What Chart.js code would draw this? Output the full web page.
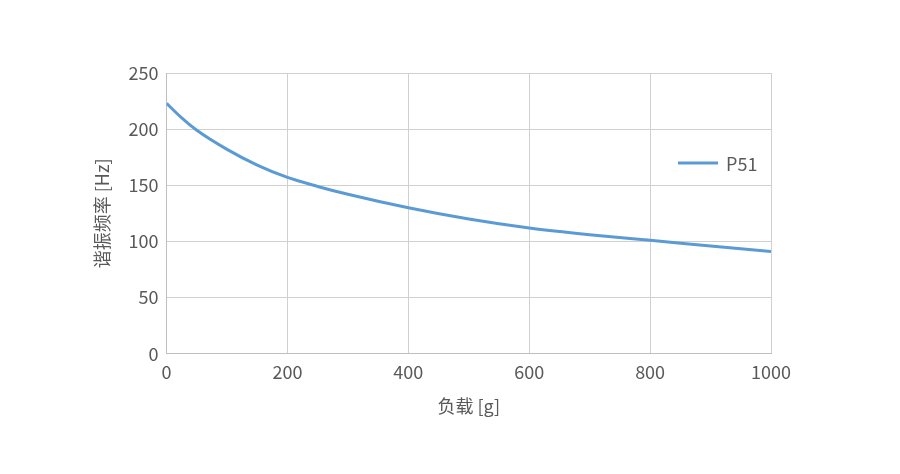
<!DOCTYPE html>
<html>
<head>
<meta charset="utf-8">
<script src="https://cdn.jsdelivr.net/npm/chart.js@4"></script>
<style>
    html, body { margin: 0; padding: 0; background: #fff; }
    #wrap { width: 900px; height: 474px; }
</style>
</head>
<body>
<div id="wrap"><canvas id="freqChart"></canvas></div>
<script>
// load [g] vs resonant frequency [Hz]
const loads = [0, 25, 50, 100, 150, 200, 250, 300, 400, 500, 600, 700, 800, 900, 1000];
const p51 = [223, 210, 199, 182, 168, 157, 149, 142, 130, 120, 112, 106, 101, 96, 91];
const seriesName = "P51";
const xTitle = "负载 [g]";
const yTitle = "谐振频率 [Hz]";

const textColor = "#595959";
const lineColor = "#5b9bd5";
const font = "'Noto Sans CJK SC', 'Noto Sans', sans-serif";

// legend drawn inside the plot, right side
const innerLegend = {
    id: "innerLegend",
    afterDraw(chart) {
        const ctx = chart.ctx;
        const area = chart.chartArea;
        const x = area.right - 93;
        const y = area.top + 90;
        ctx.save();
        ctx.strokeStyle = lineColor;
        ctx.lineWidth = 3;
        ctx.beginPath();
        ctx.moveTo(x, y);
        ctx.lineTo(x + 40, y);
        ctx.stroke();
        ctx.fillStyle = textColor;
        ctx.font = "18px " + font;
        ctx.textBaseline = "middle";
        ctx.fillText(seriesName, x + 48, y + 1);
        ctx.restore();
    }
};

const data = loads.map((g, i) => ({ x: g, y: p51[i] }));

new Chart(document.getElementById("freqChart"), {
    type: "line",
    data: {
        datasets: [{
            label: seriesName,
            data: data,
            borderColor: lineColor,
            borderWidth: 3,
            pointRadius: 0,
            cubicInterpolationMode: "monotone",
            fill: false
        }]
    },
    options: {
        responsive: true,
        maintainAspectRatio: false,
        animation: false,
        layout: { padding: { left: 87, right: 129, top: 73, bottom: 53 } },
        plugins: {
            legend: { display: false },
            tooltip: { enabled: false }
        },
        scales: {
            x: {
                type: "linear",
                min: 0,
                max: 1000,
                ticks: {
                    stepSize: 200, color: textColor, font: { size: 18, family: font }, padding: 8,
                    callback: v => String(v)
                },
                grid: { color: "#d0d0d0", lineWidth: 1, drawTicks: false },
                border: { color: "#bfbfbf" },
                title: { display: true, text: xTitle, color: textColor, font: { size: 18, family: font }, padding: { top: 4 } }
            },
            y: {
                min: 0,
                max: 250,
                ticks: { stepSize: 50, color: textColor, font: { size: 18, family: font }, padding: 8 },
                grid: { color: "#d0d0d0", lineWidth: 1, drawTicks: false },
                border: { color: "#bfbfbf" },
                title: { display: true, text: yTitle, color: textColor, font: { size: 18, family: font }, padding: { bottom: 8 } }
            }
        }
    },
    plugins: [innerLegend]
});
</script>
</body>
</html>
